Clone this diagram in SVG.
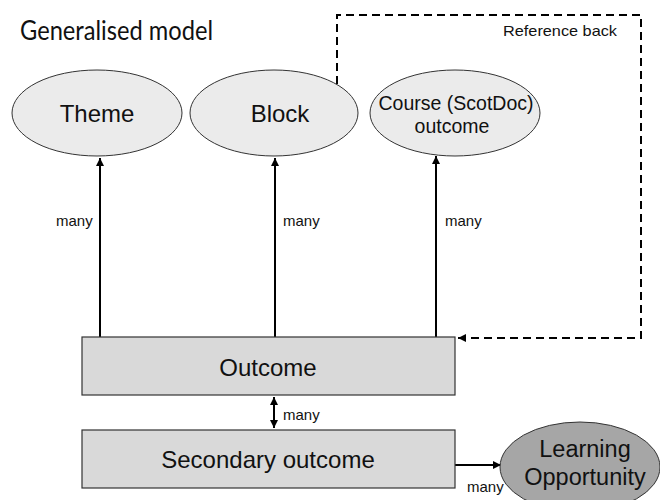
<svg xmlns="http://www.w3.org/2000/svg" width="660" height="500" viewBox="0 0 660 500">
<style>
.ell{fill:#ebebeb;stroke:#333;stroke-width:1}
.box{fill:#d9d9d9;stroke:#333;stroke-width:1.2}
.t{font-family:"Liberation Sans",Arial,sans-serif;fill:#111;text-anchor:middle}
.lbl{font-family:"Liberation Sans",Arial,sans-serif;fill:#111;font-size:15px}
.con{stroke:#000;stroke-width:2;fill:none}
</style>
<defs>
<marker id="ah" viewBox="0 0 10 10" refX="10" refY="5" markerWidth="4" markerHeight="4" orient="auto-start-reverse"><path d="M0,0 L10,5 L0,10 z" fill="#000"/></marker>
</defs>
<rect width="660" height="500" fill="#fff"/>
<text x="20" y="40" font-family="Lato,'Open Sans',sans-serif" font-size="27" fill="#111" textLength="193" lengthAdjust="spacingAndGlyphs">Generalised model</text>
<g id="connectors">
<path class="con" d="M337,84 L337,15 L641,15 L641,338 L458,338" stroke-dasharray="8,5" marker-end="url(#ah)"/>
<line class="con" x1="100" y1="337" x2="100" y2="158" marker-end="url(#ah)"/>
<line class="con" x1="275" y1="337" x2="275" y2="158" marker-end="url(#ah)"/>
<line class="con" x1="436" y1="337" x2="436" y2="156" marker-end="url(#ah)"/>
<line class="con" x1="274" y1="397" x2="274" y2="428" stroke-width="1.6" marker-start="url(#ah)" marker-end="url(#ah)"/>
<line class="con" x1="455" y1="465" x2="501" y2="465" marker-end="url(#ah)"/>
<text class="lbl" x="56" y="226">many</text>
<text class="lbl" x="283" y="226">many</text>
<text class="lbl" x="445" y="226">many</text>
<text class="lbl" x="283" y="420">many</text>
<text class="lbl" x="467" y="492">many</text>
<text class="lbl" x="503" y="36" textLength="114" lengthAdjust="spacingAndGlyphs">Reference back</text>
</g>
<g id="theme"><ellipse class="ell" cx="97" cy="113" rx="85" ry="43"/><text class="t" x="97" y="122" font-size="24">Theme</text></g>
<g id="block"><ellipse class="ell" cx="274" cy="113" rx="84" ry="43"/><text class="t" x="280" y="122" font-size="24">Block</text></g>
<g id="course"><ellipse class="ell" cx="455" cy="113" rx="85" ry="43"/><text class="t" x="456" y="110" font-size="19.5">Course (ScotDoc)</text><text class="t" x="452" y="133" font-size="19.5">outcome</text></g>
<g id="outcome"><rect class="box" x="82" y="337" width="373" height="58"/><text class="t" x="268" y="376" font-size="24">Outcome</text></g>
<g id="secondary"><rect class="box" x="82" y="430" width="373" height="58"/><text class="t" x="268" y="468" font-size="24">Secondary outcome</text></g>
<g id="learning"><ellipse cx="580" cy="467" rx="80" ry="45" fill="#a6a6a6" stroke="#333" stroke-width="1"/><text class="t" x="585" y="457" font-size="23.5">Learning</text><text class="t" x="585" y="485" font-size="23.5">Opportunity</text></g>
</svg>
